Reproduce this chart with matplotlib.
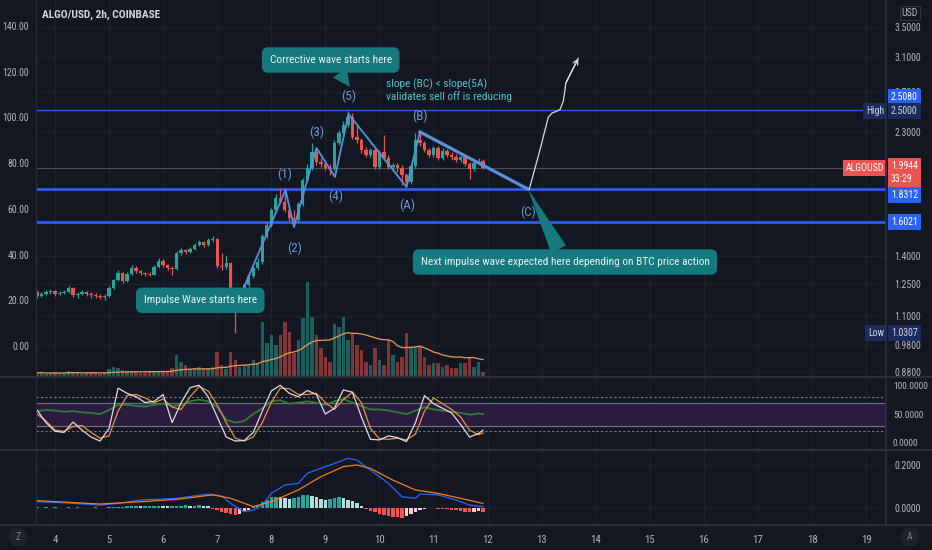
import numpy as np
import pandas as pd
import matplotlib
matplotlib.use("Agg")
import matplotlib.pyplot as plt
import matplotlib.font_manager as fm
from matplotlib.transforms import blended_transform_factory
from matplotlib.patches import Rectangle
from matplotlib.collections import PatchCollection
from matplotlib.lines import Line2D
from matplotlib.ticker import FixedLocator, FuncFormatter, NullLocator

# ---------------- data ----------------
symbol_title = "ALGO/USD, 2h, COINBASE"
first_candle_day = 3 + 16 / 24      # first 2h candle: day 3, 16:00
candle_step_days = 2 / 24
first_open = 1.212

close = [1.193, 1.202, 1.212, 1.217, 1.202, 1.207, 1.212, 1.232, 1.198, 1.202,
         1.212, 1.202, 1.198, 1.193, 1.188, 1.193, 1.232, 1.272, 1.308, 1.267,
         1.303, 1.334, 1.319, 1.308, 1.303, 1.298, 1.340, 1.372, 1.350, 1.334,
         1.329, 1.417, 1.434, 1.423, 1.440, 1.464, 1.481, 1.464, 1.493, 1.499,
         1.345, 1.340, 1.361, 1.212, 1.188, 1.212, 1.247, 1.293, 1.334, 1.367,
         1.518, 1.585, 1.683, 1.767, 1.738, 1.683, 1.630, 1.617, 1.724, 1.898,
         1.991, 2.123, 2.040, 2.023, 1.991, 1.983, 2.200, 2.290, 2.365, 2.442,
         2.254, 2.227, 2.140, 2.098, 2.140, 1.999, 2.123, 2.073, 1.999, 2.015,
         1.991, 1.936, 1.883, 2.007, 2.227, 2.200, 2.140, 2.098, 2.157, 2.073,
         2.131, 2.098, 2.081, 2.056, 2.081, 2.023, 1.983, 2.031, 2.048, 1.9944]
high = [1.222, 1.212, 1.222, 1.227, 1.222, 1.217, 1.222, 1.242, 1.237, 1.212,
        1.222, 1.217, 1.212, 1.207, 1.202, 1.202, 1.242, 1.277, 1.324, 1.313,
        1.313, 1.350, 1.345, 1.324, 1.313, 1.313, 1.350, 1.389, 1.383, 1.356,
        1.345, 1.428, 1.446, 1.440, 1.452, 1.475, 1.493, 1.487, 1.506, 1.518,
        1.506, 1.417, 1.406, 1.367, 1.222, 1.227, 1.257, 1.313, 1.345, 1.389,
        1.530, 1.604, 1.697, 1.796, 1.839, 1.839, 1.718, 1.683, 1.738, 1.913,
        2.023, 2.200, 2.140, 2.073, 2.056, 2.023, 2.227, 2.318, 2.403, 2.500,
        2.480, 2.365, 2.245, 2.166, 2.157, 2.157, 2.140, 2.272, 2.098, 2.031,
        2.031, 2.015, 1.952, 2.023, 2.290, 2.300, 2.218, 2.157, 2.174, 2.174,
        2.157, 2.148, 2.123, 2.106, 2.098, 2.089, 2.040, 2.048, 2.073, 2.064]
low = [1.183, 1.188, 1.198, 1.202, 1.193, 1.198, 1.202, 1.207, 1.188, 1.183,
       1.198, 1.193, 1.183, 1.183, 1.178, 1.174, 1.188, 1.227, 1.267, 1.257,
       1.262, 1.298, 1.308, 1.298, 1.293, 1.293, 1.298, 1.334, 1.340, 1.324,
       1.298, 1.324, 1.406, 1.411, 1.417, 1.434, 1.458, 1.452, 1.458, 1.481,
       1.334, 1.324, 1.329, 1.202, 1.0307, 1.178, 1.207, 1.237, 1.282, 1.324,
       1.356, 1.506, 1.573, 1.670, 1.724, 1.670, 1.611, 1.573, 1.604, 1.711,
       1.883, 1.975, 2.015, 1.999, 1.975, 1.936, 1.975, 2.183, 2.272, 2.346,
       2.236, 2.200, 2.114, 2.081, 2.081, 1.983, 1.983, 2.056, 1.983, 1.975,
       1.959, 1.861, 1.846, 1.868, 1.991, 2.174, 2.123, 2.081, 2.081, 2.056,
       2.056, 2.081, 2.056, 2.040, 2.040, 2.007, 1.905, 1.967, 2.015, 1.983]
volume_m = [0.4, 0.5, 0.3, 0.4, 0.5, 0.3, 0.4, 0.6, 0.5, 0.4,
            0.3, 0.4, 0.5, 0.4, 0.3, 0.4, 0.8, 1.0, 0.9, 0.7,
            0.6, 0.6, 0.5, 0.4, 0.4, 0.5, 0.6, 0.6, 0.5, 0.6,
            0.9, 2.2, 1.5, 1.2, 0.8, 0.9, 1.0, 0.8, 0.9, 1.0,
            2.5, 1.2, 0.8, 2.5, 1.7, 1.0, 1.2, 1.2, 1.7, 1.4,
            5.5, 3.4, 4.2, 3.2, 4.2, 5.5, 4.5, 2.4, 3.7, 5.9,
            9.5, 6.0, 4.2, 2.9, 2.0, 1.5, 5.3, 5.0, 6.0, 3.7,
            4.4, 3.2, 2.7, 1.5, 1.2, 2.9, 1.7, 1.2, 3.7, 2.2,
            1.5, 2.0, 4.4, 3.0, 3.0, 3.0, 2.0, 1.2, 1.4, 1.4,
            1.0, 1.2, 0.9, 0.9, 1.4, 1.4, 2.0, 1.0, 1.5, 0.5]

# oscillator pane (sampled every 2 candles + last)
osc_idx = list(range(0, 100, 2)) + [99]
rsi_vals = [55, 57, 56, 54, 55, 53, 52, 50, 57, 66,
            66, 64, 63, 66, 68, 64, 66, 72, 75, 72,
            62, 40, 35, 38, 50, 60, 72, 74, 68, 70,
            72, 70, 66, 72, 76, 70, 64, 58, 58, 56,
            53, 50, 56, 62, 58, 56, 54, 52, 49, 51, 50]
stoch_k = [57, 35, 20, 18, 36, 22, 10, 3, 25, 95,
           86, 80, 70, 72, 84, 35, 70, 96, 100, 80,
           45, 10, 3, 4, 18, 55, 90, 100, 86, 80,
           91, 84, 50, 60, 92, 88, 45, 6, 5, 12,
           9, 2, 35, 82, 68, 60, 52, 32, 10, 16, 22]
stoch_d = [50, 38, 22, 20, 28, 30, 18, 8, 12, 55,
           82, 84, 78, 70, 76, 62, 58, 80, 98, 90,
           66, 35, 8, 3, 10, 35, 70, 95, 94, 84,
           84, 86, 70, 58, 75, 88, 70, 25, 7, 6,
           8, 5, 15, 55, 78, 68, 58, 45, 22, 14, 17]

# MACD pane
macd_idx = [0, 7, 14, 18, 23, 31, 38, 41, 43, 46, 48, 50, 52, 55, 58, 60, 63,
            66, 69, 71, 74, 78, 81, 84, 85, 89, 93, 96, 99]
macd_vals = [0.028, 0.022, 0.012, 0.020, 0.036, 0.044, 0.064, 0.055, 0.020,
             -0.019, -0.011, 0.012, 0.067, 0.106, 0.114, 0.161, 0.184, 0.207,
             0.231, 0.223, 0.176, 0.114, 0.051, 0.044, 0.064, 0.060, 0.036,
             0.012, 0.005]
signal_idx = [0, 14, 23, 31, 39, 43, 48, 52, 58, 63, 68, 71, 74, 79, 84, 89, 94, 99]
signal_vals = [0.033, 0.017, 0.028, 0.039, 0.060, 0.044, 0.005, 0.028, 0.083,
               0.145, 0.192, 0.200, 0.184, 0.129, 0.083, 0.067, 0.044, 0.020]
hist_milli = [1, -1, 2, -2, 1, -1, -2, 1, -1, 2, -2, -1, -2, 1, -2, -1, 1,
              3, 4, 5, 6, 6, 7, 6, 7, 8, 8, 9, 8, 7, 8, 9, 10, 11, 10, 10, 11, 10, 8,
              -4, -10, -18, -25, -30, -32, -28, -20, -10,
              5, 12, 25, 38, 48, 52, 50, 44, 40, 45, 52, 58, 60, 55, 48, 40, 38, 42,
              45, 48, 44, 38, 30, 20, 10,
              -8, -15, -22, -28, -33, -38, -42, -45, -47, -40, -30, -20, -10, -4, -2,
              -3, -5, -6, -8, -10, -12, -15, -18, -20, -18, -16, -18]

# horizontal levels drawn on chart
level_prices = [2.508, 1.8312, 1.6021]
last_price = 1.9944
high_price, low_price = 2.5000, 1.0307

# Elliott wave drawing (day, price)
wave_t = [7.421, 8.263, 8.420, 8.836, 9.178, 9.428, 10.501, 10.750, 12.748]
wave_p = [1.190, 1.824, 1.573, 2.157, 1.921, 2.471, 1.846, 2.300, 1.830]
wave_labels = ["(1)", "(2)", "(3)", "(4)", "(5)", "(A)", "(B)", "(C)"]
wave_lbl_t = [8.254, 8.439, 8.840, 9.191, 9.424, 10.516, 10.750, 12.753]
wave_lbl_p = [1.944, 1.446, 2.293, 1.775, 2.648, 1.717, 2.452, 1.665]

# projected path (curved arrow)
proj_t = [12.771, 12.969, 13.123, 13.190, 13.260, 13.340, 13.400, 13.450, 13.678]
proj_p = [1.829, 2.140, 2.440, 2.480, 2.495, 2.515, 2.600, 2.800, 3.088]

# callouts: text, box centre (day, price), pointer tip (day, price) or None
callouts = [
    ("Corrective wave starts here", (9.099, 3.067), (9.456, 2.753)),
    ("Impulse Wave starts here", (6.687, 1.173), None),
    ("Next impulse wave expected here depending on BTC price action",
     (13.432, 1.367), (12.748, 1.830)),
]
slope_text = "slope (BC) < slope(5A)\nvalidates sell off is reducing"
slope_pos = (10.122, 2.721)

price_ticks = [3.5, 3.1, 2.7, 2.3, 1.4, 1.25, 1.1, 0.98, 0.88]
pct_ticks = [0, 20, 40, 60, 80, 100, 120, 140]
day_ticks = list(range(4, 20))

# ---------------- style ----------------
BG = "#131722"
GRID = "#1e222d"
TXT = "#b2b5be"
UP, DOWN = "#26a69a", "#ef5350"
TEAL = "#15797e"
WAVE = "#5592da"
LEVEL = "#2c5cf0"

avail = {f.name for f in fm.fontManager.ttflist}
if "Liberation Sans Narrow" in avail:
    FONT, K = "Liberation Sans Narrow", 1.0
elif "Roboto Condensed" in avail:
    FONT, K = "Roboto Condensed", 0.95
else:
    FONT, K = "Roboto", 0.82
plt.rcParams["font.family"] = [FONT, "DejaVu Sans"]


def fs(x):
    return x * K


W, H = 932, 550
AXFS = 7.5   # axis label font size (before K scaling)
RPAD = 5     # right-axis label pad


def rect(x0, y0, x1, y1):
    return [x0 / W, 1 - y1 / H, (x1 - x0) / W, (y1 - y0) / H]


fig = plt.figure(figsize=(W / 100, H / 100), dpi=100, facecolor=BG)
ax = fig.add_axes(rect(36, 0, 886, 377), facecolor=BG)
ax_rsi = fig.add_axes(rect(36, 377, 886, 450), facecolor=BG, sharex=ax)
ax_macd = fig.add_axes(rect(36, 450, 886, 525), facecolor=BG, sharex=ax)

n = len(close)
t = first_candle_day + np.arange(n) * candle_step_days
c = np.array(close)
o = np.concatenate([[first_open], c[:-1]])
hi = np.array(high)
lo = np.array(low)
up = c >= o
ccol = np.where(up, UP, DOWN)

# --- main pane ---
ax.set_yscale("log")
ax.set_axisbelow(True)
ax.vlines(t, lo, hi, colors=ccol, lw=0.9, zorder=3)
ax.bar(t, np.abs(c - o), bottom=np.minimum(o, c), width=0.062, color=ccol,
       linewidth=0, zorder=3.5)

# volume (bottom overlay, axes-fraction heights)
VOL_TOP = 37.7
blend = blended_transform_factory(ax.transData, ax.transAxes)
vol = np.array(volume_m)
vrects = [Rectangle((ti - 0.032, 0), 0.064, v / VOL_TOP) for ti, v in zip(t, vol)]
vcols = [(0.149, 0.651, 0.604, 0.5) if u else (0.937, 0.325, 0.314, 0.5) for u in up]
pc = PatchCollection(vrects, facecolors=vcols, edgecolors="none", transform=blend, zorder=1)
ax.add_collection(pc, autolim=False)
vol_ma = pd.Series(vol).rolling(20, min_periods=1).mean().to_numpy()
ax.plot(t, vol_ma / VOL_TOP, transform=blend, color="#e79a5a", lw=0.9, zorder=1.2)

# level lines
for p, lw in zip(level_prices, [1.0, 2.0, 2.0]):
    ax.axhline(p, color=LEVEL, lw=lw, zorder=2)
ax.axhline(last_price, color="#4a4e5a", lw=0.8, zorder=1.8)

# waves
ax.plot(wave_t[:8], wave_p[:8], color=WAVE, lw=1.3, zorder=5)
ax.plot(wave_t[7:], wave_p[7:], color=WAVE, lw=2.3, zorder=5)
for lab, lt, lp in zip(wave_labels, wave_lbl_t, wave_lbl_p):
    ax.text(lt, lp, lab, color="#6a98d2", fontsize=fs(10), ha="center", va="center", zorder=6)

# projection arrow
ax.plot(proj_t, proj_p, color="#d9dbe0", lw=0.9, zorder=5)
ax.annotate("", xy=(proj_t[-1], proj_p[-1]), xytext=(proj_t[-2], proj_p[-2]),
            arrowprops=dict(arrowstyle="->", color="#d9dbe0", lw=0.9,
                            shrinkA=0, shrinkB=0, mutation_scale=9), zorder=5)

# callouts
for txt, centre, tip in callouts:
    bb = dict(boxstyle="round,pad=0.68,rounding_size=0.55", fc=TEAL, ec="none")
    if tip is None:
        ax.text(centre[0], centre[1], txt, color="#e6f4f3", fontsize=fs(8.6),
                ha="center", va="center", bbox=bb, zorder=8)
    else:
        ax.annotate(txt, xy=tip, xytext=centre, color="#e6f4f3", fontsize=fs(8.6),
                    ha="center", va="center", bbox=bb, zorder=8,
                    arrowprops=dict(arrowstyle="wedge,tail_width=1.2,shrink_factor=0.5",
                                    fc=TEAL, ec="none", shrinkA=0, shrinkB=0,
                                    mutation_scale=10))
ax.text(slope_pos[0], slope_pos[1], slope_text, color="#4cc4cf", fontsize=fs(8.6),
        ha="left", va="center", linespacing=1.15, zorder=6)

ax.set_ylim(0.863, 3.899)
ax.set_xlim(3.6486, 19.369)
ax.tick_params(axis="x", length=0, labelbottom=False)
ax.grid(True, color=GRID, lw=0.8)
for s in ax.spines.values():
    s.set_visible(False)

# left percent scale (twinx moves the main ticks to the left, so reset after)
ax_pct = ax.twinx()
ax_pct.set_ylim(-13.56, 151.4)
ax_pct.yaxis.set_major_locator(FixedLocator(pct_ticks))
ax_pct.yaxis.set_major_formatter(FuncFormatter(lambda v, _: f"{v:.2f}"))
ax_pct.yaxis.tick_left()
ax_pct.tick_params(axis="y", length=0, pad=5, labelsize=fs(AXFS), labelcolor=TXT)
for s in ax_pct.spines.values():
    s.set_visible(False)

ax.yaxis.set_major_locator(FixedLocator(price_ticks))
ax.yaxis.set_minor_locator(NullLocator())
ax.yaxis.set_major_formatter(FuncFormatter(lambda v, _: f"{v:.4f}"))
ax.yaxis.set_minor_formatter(FuncFormatter(lambda v, _: ""))
ax.yaxis.tick_right()
ax.tick_params(axis="y", which="both", left=False, labelleft=False, right=True,
               labelright=True, length=0, pad=RPAD + 1, labelsize=fs(AXFS), labelcolor=TXT)

# right-side price labels
yb = blended_transform_factory(ax.transAxes, ax.transData)


def plabel(price, text, fc, tc="white", dy=0, side="left"):
    dx = 5 if side == "left" else -2
    ax.annotate(text, xy=(1.0, price), xycoords=yb, xytext=(dx, dy),
                textcoords="offset pixels", ha=side if side == "left" else "right",
                va="center", fontsize=fs(AXFS), color=tc, annotation_clip=False,
                bbox=dict(boxstyle="square,pad=0.3", fc=fc, ec="none"), zorder=9)


plabel(level_prices[0], f"{level_prices[0]:.4f}", "#2962ff", dy=13)
plabel(high_price, f"{high_price:.4f}", "#1b2b5e", tc="#d1d4dc")
plabel(high_price, "High", "#1b2b5e", tc="#d1d4dc", side="right")
plabel(last_price, "ALGOUSD", "#ef5350", side="right")
ax.annotate(f"{last_price:.4f}\n33:29", xy=(1.0, last_price), xycoords=yb, xytext=(5, 7),
            textcoords="offset pixels", ha="left", va="top", fontsize=fs(AXFS),
            color="white", linespacing=1.4, annotation_clip=False,
            bbox=dict(boxstyle="square,pad=0.3", fc="#ef5350", ec="none"), zorder=9)
plabel(level_prices[1], f"{level_prices[1]:.4f}", "#2962ff", dy=-6)
plabel(level_prices[2], f"{level_prices[2]:.4f}", "#2962ff")
plabel(low_price, f"{low_price:.4f}", "#1b2b5e", tc="#d1d4dc")
plabel(low_price, "Low", "#1b2b5e", tc="#d1d4dc", side="right")

# --- RSI / Stoch pane ---
to = t[osc_idx]
ax_rsi.axhspan(30, 70, color="#2a1c3f", zorder=0.6, lw=0)
for lvl in (70, 30):
    ax_rsi.axhline(lvl, color="#6e6c80", lw=0.9, zorder=0.8)
for lvl in (80, 20):
    ax_rsi.axhline(lvl, color="#787b86", lw=0.8, ls=(0, (2, 2)), zorder=0.8)
ax_rsi.plot(to, rsi_vals, color="#2f7d36", lw=1.3, zorder=2)
ax_rsi.plot(to, stoch_d, color="#e39040", lw=0.9, zorder=3)
ax_rsi.plot(to, stoch_k, color="#e6d6de", lw=0.9, zorder=3)
ax_rsi.set_ylim(-12.6, 114.4)
ax_rsi.yaxis.set_major_locator(FixedLocator([0, 50, 100]))
ax_rsi.yaxis.set_major_formatter(FuncFormatter(lambda v, _: f"{v:.4f}"))
ax_rsi.yaxis.tick_right()
ax_rsi.tick_params(axis="y", length=0, pad=RPAD, labelsize=fs(AXFS - 0.3), labelcolor=TXT)
ax_rsi.tick_params(axis="x", length=0, labelbottom=False)
ax_rsi.grid(True, axis="x", color=GRID, lw=0.8)
ax_rsi.set_axisbelow(True)
for s in ax_rsi.spines.values():
    s.set_visible(False)

# --- MACD pane ---
hist = np.array(hist_milli) / 1000.0
prev = np.concatenate([[0.0], hist[:-1]])
hcol = []
for h, pv in zip(hist, prev):
    if h >= 0:
        hcol.append("#26a69a" if h >= pv else "#b2dfdb")
    else:
        hcol.append("#ff5252" if h < pv else "#ffcdd2")
ax_macd.bar(t, hist, width=0.064, color=hcol, linewidth=0, zorder=2)
ax_macd.plot(t[macd_idx], macd_vals, color="#2962ff", lw=0.9, zorder=3)
ax_macd.plot(t[signal_idx], signal_vals, color="#f57c1f", lw=0.9, zorder=3)
ax_macd.set_ylim(-0.081, 0.270)
ax_macd.yaxis.set_major_locator(FixedLocator([0.0, 0.2]))
ax_macd.yaxis.set_major_formatter(FuncFormatter(lambda v, _: f"{v:.4f}"))
ax_macd.yaxis.tick_right()
ax_macd.tick_params(axis="y", length=0, pad=RPAD + 1, labelsize=fs(AXFS), labelcolor=TXT)
ax_macd.set_xticks(day_ticks)
ax_macd.set_xticklabels([str(d) for d in day_ticks])
ax_macd.tick_params(axis="x", length=0, pad=7, labelsize=fs(8.2), labelcolor=TXT)
ax_macd.grid(True, color=GRID, lw=0.8)
ax_macd.set_axisbelow(True)
for s in ax_macd.spines.values():
    s.set_visible(False)
ax.set_xlim(3.6486, 19.369)

# --- frame / separators ---
SEP = "#2a2e39"
for yy in (377, 450, 525):
    fig.add_artist(Line2D([0, 1], [1 - yy / H] * 2, color=SEP, lw=1.6))
fig.add_artist(Line2D([886 / W] * 2, [1 - 525 / H, 1], color=SEP, lw=1.2))
fig.add_artist(Line2D([36 / W] * 2, [1 - 525 / H, 1], color=SEP, lw=0.8))

fig.text(42 / W, 1 - 15 / H, symbol_title, color="#d1d4dc", fontsize=fs(8.6),
         fontweight="bold", va="center", ha="left")
fig.text(910 / W, 1 - 13 / H, "USD", color=TXT, fontsize=fs(7.5), ha="center", va="center",
         bbox=dict(boxstyle="square,pad=0.2", fc=BG, ec="#363a45", lw=0.6))
for xx, letter in ((18, "Z"), (910, "A")):
    fig.text(xx / W, 1 - 537 / H, letter, color="#787b86", fontsize=fs(7.5), ha="center",
             va="center", bbox=dict(boxstyle="circle,pad=0.45", fc="#1e222d", ec="none"))

fig.savefig("out.png", dpi=100, facecolor=BG)
